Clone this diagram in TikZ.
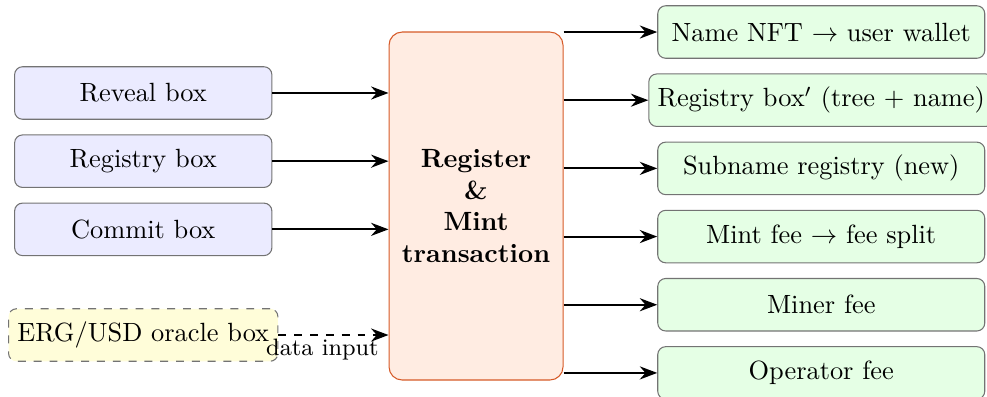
\documentclass[tikz,border=0pt]{standalone}
\usepackage{tikz}
\usetikzlibrary{arrows.meta, positioning, calc}
\definecolor{txline}{RGB}{214,90,40}
\definecolor{txfill}{RGB}{255,236,226}
\tikzstyle{inbox} = [rectangle, rounded corners=3pt, minimum width=3.43cm, minimum height=0.7cm, align=center, draw=black!55, fill=blue!8]
\tikzstyle{oracle} = [inbox, dashed, fill=yellow!15]
\tikzstyle{outbox} = [rectangle, rounded corners=3pt, minimum width=4.36cm, minimum height=0.7cm, align=center, draw=black!55, fill=green!10]
\tikzstyle{txbox} = [rectangle, rounded corners=5pt, minimum width=2.32cm, minimum height=4.64cm, align=center, draw=txline, fill=txfill, font=\bfseries]
\tikzstyle{arrow} = [thick, ->, >=Stealth]

\begin{document}
\begin{tikzpicture}
  \useasboundingbox (0,0) rectangle (13.16,5.28);
  % transaction in the middle
  \node[txbox] (tx) at (6.347,2.533) {Register\\\&\\Mint\\transaction};
  % inputs
  \node[inbox] (reveal) at (1.91,4.04) {Reveal box};
  \node[inbox, below=0.195cm of reveal] (reg) {Registry box};
  \node[inbox, below=0.195cm of reg] (commit) {Commit box};
  \node[oracle] (oracle) at (1.91,0.813) {ERG/USD oracle box};
  % outputs
  \node[outbox] (nft) at (10.95,4.853) {Name NFT $\rightarrow$ user wallet};
  \node[outbox, below=0.195cm of nft] (regout) {Registry box$'$ (tree + name)};
  \node[outbox, below=0.195cm of regout] (sub) {Subname registry (new)};
  \node[outbox, below=0.195cm of sub] (mintfee) {Mint fee $\rightarrow$ fee split};
  \node[outbox, below=0.195cm of mintfee] (miner) {Miner fee};
  \node[outbox, below=0.195cm of miner] (oper) {Operator fee};

  \draw[arrow] (reveal.east) -- (reveal.east -| tx.west);
  \draw[arrow] (reg.east) -- (reg.east -| tx.west);
  \draw[arrow] (commit.east) -- (commit.east -| tx.west);
  \draw[arrow, dashed] (oracle.east) -- node[below, pos=0.4, font=\small, inner sep=1pt]{data input} (oracle.east -| tx.west);

  \draw[arrow] (nft.west -| tx.east) -- (nft.west);
  \draw[arrow] (regout.west -| tx.east) -- (regout.west);
  \draw[arrow] (sub.west -| tx.east) -- (sub.west);
  \draw[arrow] (mintfee.west -| tx.east) -- (mintfee.west);
  \draw[arrow] (miner.west -| tx.east) -- (miner.west);
  \draw[arrow] (oper.west -| tx.east) -- (oper.west);
\end{tikzpicture}
\end{document}
